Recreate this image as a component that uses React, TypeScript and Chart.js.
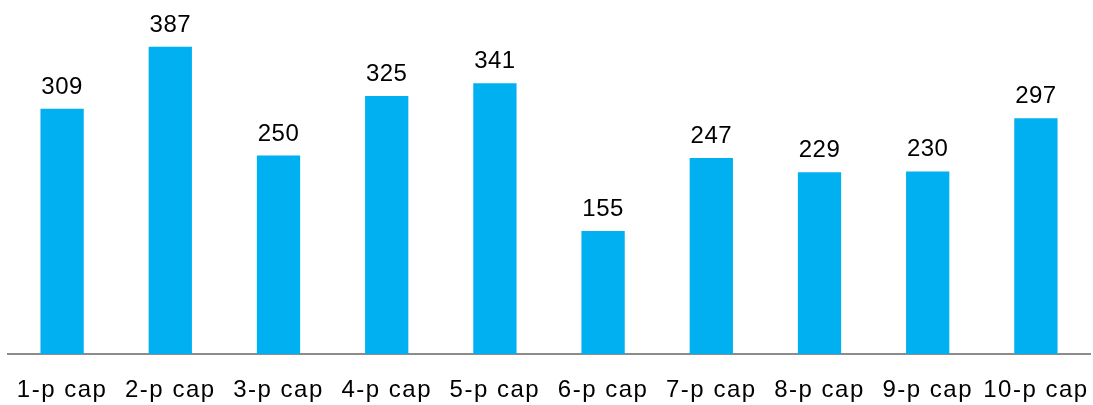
import React, { useEffect, useRef } from "react";
import { Chart, registerables } from "chart.js";

Chart.register(...registerables);

const categories = ["1-p cap", "2-p cap", "3-p cap", "4-p cap", "5-p cap", "6-p cap", "7-p cap", "8-p cap", "9-p cap", "10-p cap"];
const values = [309, 387, 250, 325, 341, 155, 247, 229, 230, 297];

const FONT = "'Liberation Sans', Arial, sans-serif";

const spacing = {
  id: "spacing",
  beforeDraw(chart: any) {
    chart.ctx.letterSpacing = "1.5px";
  },
};

const valueLabels = {
  id: "valueLabels",
  afterDatasetsDraw(chart: any) {
    const ctx = chart.ctx;
    const meta = chart.getDatasetMeta(0);
    ctx.save();
    ctx.letterSpacing = "0.5px";
    ctx.font = `24px ${FONT}`;
    ctx.fillStyle = "#000000";
    ctx.textAlign = "center";
    ctx.textBaseline = "alphabetic";
    meta.data.forEach((bar: any, i: number) => {
      ctx.fillText(String(values[i]), bar.x, bar.y - 15);
    });
    ctx.restore();
  },
};

export default function App() {
  const ref = useRef<HTMLCanvasElement>(null);
  useEffect(() => {
    if (!ref.current) return;
    const chart = new Chart(ref.current, {
      type: "bar",
      data: {
        labels: categories,
        datasets: [
          {
            data: values,
            backgroundColor: "#00B0F0",
            barPercentage: 0.4,
            categoryPercentage: 1,
          },
        ],
      },
      options: {
        animation: false,
        responsive: false,
        maintainAspectRatio: false,
        layout: { padding: { left: 8, right: 3, top: 0, bottom: 0 } },
        plugins: { legend: { display: false }, tooltip: { enabled: false } },
        scales: {
          x: {
            grid: { display: false, drawTicks: false },
            border: { display: true, color: "#8c8c8c", width: 2 },
            ticks: {
              color: "#000000",
              padding: 22,
              font: { family: FONT, size: 24 },
              maxRotation: 0,
              autoSkip: false,
            },
            afterFit(scale: any) {
              scale.height = 51;
              scale.paddingLeft = 0;
              scale.paddingRight = 0;
            },
          },
          y: {
            display: false,
            min: 0,
            max: 446,
          },
        },
      },
      plugins: [spacing, valueLabels],
    });
    return () => chart.destroy();
  }, []);
  return (
    <div style={{ position: "absolute", left: 0, top: 0, width: 1093, height: 405, background: "#fff" }}>
      <canvas ref={ref} width={1093} height={405} />
    </div>
  );
}
